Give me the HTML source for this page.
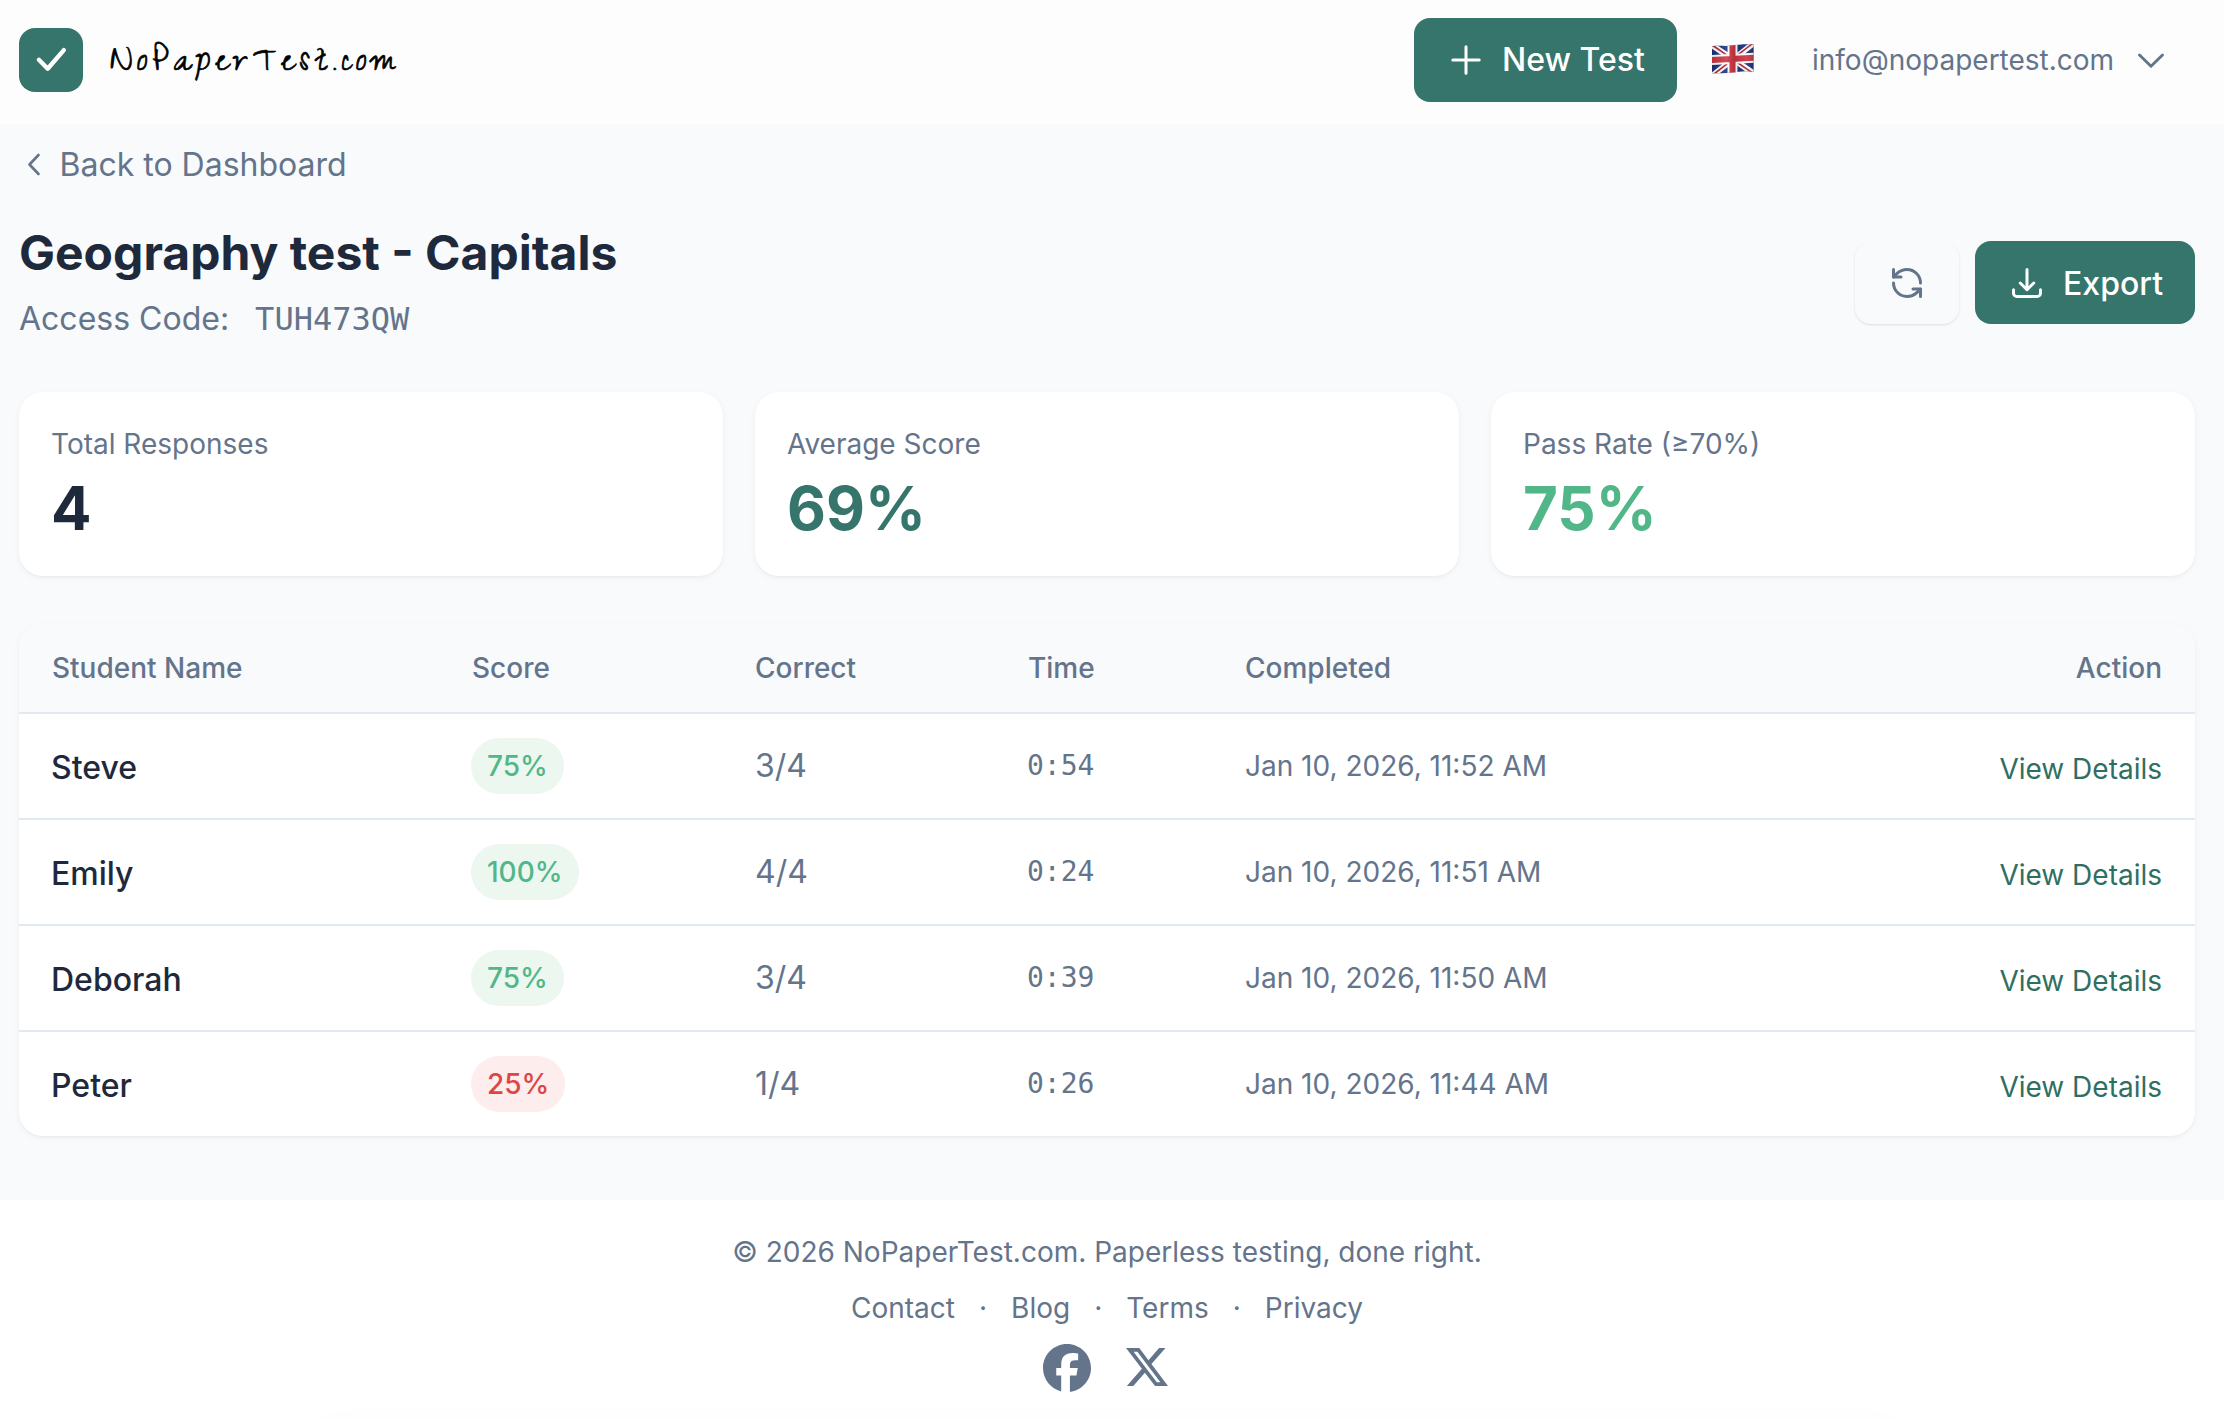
<!DOCTYPE html>
<html lang="en">
<head>
<meta charset="utf-8">
<title>Geography test - Capitals | NoPaperTest.com</title>
<style>
*{box-sizing:border-box;margin:0;padding:0}
html,body{width:2224px;height:1420px;overflow:hidden}
body{font-family:"Inter","Liberation Sans",Arial,sans-serif;background:#fff;color:#1e293b;position:relative;-webkit-font-smoothing:antialiased}
.mono{font-family:"DejaVu Sans Mono","Liberation Mono",monospace}
header{position:absolute;left:0;top:0;width:2224px;height:124px;background:#fdfdfe}
.logo-box{position:absolute;left:19px;top:28px;width:64px;height:64px;border-radius:16px;background:#36756b}
.logo-box svg{position:absolute;left:0;top:0}
.logo-text{position:absolute;left:110px;top:36px;font-family:"Zeyada","Reenie Beanie","Liberation Serif",cursive;font-size:40px;line-height:60px;color:#000;letter-spacing:4.7px;white-space:nowrap;-webkit-text-stroke:0.7px #000}
.btn{position:absolute;display:flex;align-items:center;border-radius:16px;background:#36756b;color:#fff;font-size:32px;font-weight:500;white-space:nowrap}
.btn svg{flex:none}
.new-test{left:1414px;top:18px;width:263px;height:84px;padding-left:34px}
.new-test span{margin-left:18px;position:relative;top:-1px}
.flag{position:absolute;left:1711px;top:43px;width:44px;height:32px}
.email{position:absolute;left:1812px;top:40px;font-size:28px;line-height:40px;color:#64748b;white-space:nowrap}
.chev{position:absolute;left:2136px;top:51px}
main{position:absolute;left:0;top:124px;width:2224px;height:1076px;background:#f8fafc}
.back{position:absolute;left:24px;top:16px;height:48px;display:flex;align-items:center;color:#64748b;font-size:32px;line-height:48px}
.back span{margin-left:17.5px;position:relative;top:1px}
h1{position:absolute;left:19px;top:97px;font-size:48px;line-height:64px;font-weight:700;color:#1e293b;white-space:nowrap;}
.code{position:absolute;left:19px;top:171px;font-size:32px;line-height:48px;color:#64748b;white-space:nowrap}
.code .mono{margin-left:17px;font-size:32px}
.refresh{position:absolute;left:1855px;top:118px;width:104px;height:82px;border-radius:16px;background:#f8fafc;box-shadow:0 1px 3px rgba(15,23,42,0.08),0 1px 2px rgba(15,23,42,0.04);display:flex;align-items:center;justify-content:center}
.export{left:1975px;top:117px;width:220px;height:83px;padding-left:34px}
.export span{margin-left:18px;position:relative;top:1px}
.cards{position:absolute;left:19px;top:268px;width:2176px;height:184px}
.card{position:absolute;top:0;width:704px;height:184px;background:#fff;border-radius:24px;box-shadow:0 2px 7px rgba(15,23,42,0.045),0 1px 2px rgba(15,23,42,0.035);padding:32px 32px}
.card .lbl{font-size:28px;line-height:40px;color:#64748b;white-space:nowrap}
.card .val{margin-top:8px;font-size:60px;line-height:72px;font-weight:700;white-space:nowrap}
.tbl{position:absolute;left:19px;top:500px;width:2176px;height:512px;background:#fff;border-radius:24px;overflow:hidden;box-shadow:0 2px 7px rgba(15,23,42,0.045),0 1px 2px rgba(15,23,42,0.035)}
.thead{position:absolute;left:0;top:0;width:2176px;height:90px;background:#f8fafc;border-bottom:2px solid #e2e8f0}
.th{position:absolute;top:24px;font-size:28px;line-height:40px;font-weight:500;color:#64748b;white-space:nowrap}
.row{position:absolute;left:0;width:2176px;height:106px;border-bottom:2px solid #e2e8f0}
.row.last{border-bottom:none}
.cell{position:absolute;white-space:nowrap}
.name{left:32px;top:29.5px;font-size:32px;line-height:48px;font-weight:500;color:#1e293b}
.badge{left:452px;top:24px;height:56px;border-radius:28px;padding:0 16px;font-size:28px;line-height:56px;font-weight:500}
.badge.g{background:#ecf7f0;color:#52b788}
.badge.r{background:#fdeded;color:#dc4646}
.corr{left:736px;top:28px;font-size:32px;line-height:48px;color:#64748b}
.time{left:1008px;top:32px;font-size:28px;line-height:40px;color:#64748b}
.date{left:1226px;top:32px;font-size:28px;line-height:40px;color:#64748b}
.act{right:33px;top:35px;font-size:28px;line-height:40px;font-weight:400;color:#2f6f62}
footer{position:absolute;left:0;top:1200px;width:2224px;height:220px;background:#fff;text-align:center}
.copy{position:absolute;left:0;width:2214px;top:32px;font-size:28px;line-height:40px;color:#64748b}
.links{position:absolute;left:0;width:2214px;top:88px;font-size:28px;line-height:40px;color:#64748b;white-space:nowrap}
.links .dot{margin:0 24px}
.social{position:absolute;left:1043px;top:144px}
@media (max-width:1300px){html{zoom:0.5}}
.bshadow{position:absolute;left:300px;top:1450px;width:1620px;height:100px;border-radius:40px;box-shadow:0 0 60px rgba(15,23,42,0.05)}
</style>
</head>
<body>
<header>
  <div class="logo-box"><svg width="64" height="64" viewBox="0 0 64 64"><path d="M19.9 31.8 28.7 40.7 44.8 22.1" fill="none" stroke="#fff" stroke-width="4.4" stroke-linecap="round" stroke-linejoin="round"/></svg></div>
  <div class="logo-text">NoPaperTest.com</div>
  <div class="btn new-test"><svg width="36" height="36" viewBox="0 0 36 36" fill="none" stroke="#fff" stroke-width="3" stroke-linecap="round"><path d="M4.8 18h26.4M18 4.8v26.4"/></svg><span>New Test</span></div>
  <svg class="flag" viewBox="0 0 44 32">
    <defs><clipPath id="fc"><path d="M1 3.3 C8 2.2 14 3.6 20 2.6 S34 0.9 42.6 1.3 L42.6 29 C34 27.2 28 28.6 21 29.6 S8 30.2 1 30.2 Z"/></clipPath>
    <linearGradient id="fs" x1="0" y1="0" x2="1" y2="0"><stop offset="0" stop-color="#000" stop-opacity=".12"/><stop offset=".35" stop-color="#fff" stop-opacity=".12"/><stop offset=".55" stop-color="#000" stop-opacity=".1"/><stop offset=".8" stop-color="#fff" stop-opacity=".08"/><stop offset="1" stop-color="#000" stop-opacity=".15"/></linearGradient></defs>
    <g clip-path="url(#fc)">
      <g transform="translate(0 1.5) skewY(-3)">
      <rect x="-2" y="-2" width="48" height="36" fill="#1a2f7d"/>
      <path d="M0 0 L44 32 M44 0 L0 32" stroke="#fff" stroke-width="5.6"/>
      <path d="M-1 -1 L21 15.2 M44.5 -1 L23 14.6 M23 16.8 L45 33.2 M21 16.6 L-1 32.6" stroke="#b8242c" stroke-width="1.7"/>
      <path d="M21.5 0 V32 M0 15.5 H44" stroke="#fff" stroke-width="10"/>
      <path d="M21.5 0 V32 M0 15.5 H44" stroke="#cc3340" stroke-width="6"/>
      </g>
      <rect x="0" y="0" width="44" height="32" fill="url(#fs)"/>
    </g>
  </svg>
  <div class="email">info@nopapertest.com</div>
  <svg class="chev" width="30" height="20" viewBox="0 0 30 20" fill="none" stroke="#64748b" stroke-width="2.9" stroke-linecap="round" stroke-linejoin="round"><path d="M3.5 4 15 15.3 26.5 4"/></svg>
</header>
<main>
  <div class="back"><svg width="18" height="26" viewBox="0 0 18 26" fill="none" stroke="#64748b" stroke-width="2.6" stroke-linecap="round" stroke-linejoin="round"><path d="M14.5 4 5.5 13.5l9 9.5"/></svg><span>Back to Dashboard</span></div>
  <h1>Geography test - Capitals</h1>
  <div class="code">Access Code: <span class="mono">TUH473QW</span></div>
  <div class="refresh"><svg width="36" height="36" viewBox="0 0 24 24" fill="none" stroke="#64748b" stroke-width="2" stroke-linecap="round" stroke-linejoin="round"><path d="M21 12a9 9 0 0 0-9-9 9.75 9.75 0 0 0-6.74 2.74L3 8"/><path d="M3 3v5h5"/><path d="M3 12a9 9 0 0 0 9 9 9.75 9.75 0 0 0 6.74-2.74L21 16"/><path d="M16 16h5v5"/></svg></div>
  <div class="btn export"><svg width="36" height="36" viewBox="0 0 24 24" fill="none" stroke="#fff" stroke-width="2" stroke-linecap="round" stroke-linejoin="round"><path d="M3 16.5v2.25A2.25 2.25 0 0 0 5.25 21h13.5A2.25 2.25 0 0 0 21 18.75V16.5M16.5 12 12 16.5m0 0L7.5 12m4.5 4.5V3"/></svg><span>Export</span></div>

  <div class="cards">
    <div class="card" style="left:0"><div class="lbl">Total Responses</div><div class="val" style="color:#1e293b">4</div></div>
    <div class="card" style="left:736px"><div class="lbl">Average Score</div><div class="val" style="color:#36756b">69%</div></div>
    <div class="card" style="left:1472px"><div class="lbl">Pass Rate (≥70%)</div><div class="val" style="color:#52b788">75%</div></div>
  </div>

  <div class="tbl">
    <div class="thead">
      <div class="th" style="left:33px">Student Name</div>
      <div class="th" style="left:453px">Score</div>
      <div class="th" style="left:736px">Correct</div>
      <div class="th" style="left:1009px">Time</div>
      <div class="th" style="left:1226px">Completed</div>
      <div class="th" style="right:33px">Action</div>
    </div>
    <div class="row" style="top:90px">
      <div class="cell name">Steve</div>
      <div class="cell badge g">75%</div>
      <div class="cell corr">3/4</div>
      <div class="cell time mono">0:54</div>
      <div class="cell date">Jan 10, 2026, 11:52 AM</div>
      <div class="cell act">View Details</div>
    </div>
    <div class="row" style="top:196px">
      <div class="cell name">Emily</div>
      <div class="cell badge g">100%</div>
      <div class="cell corr">4/4</div>
      <div class="cell time mono">0:24</div>
      <div class="cell date">Jan 10, 2026, 11:51 AM</div>
      <div class="cell act">View Details</div>
    </div>
    <div class="row" style="top:302px">
      <div class="cell name">Deborah</div>
      <div class="cell badge g">75%</div>
      <div class="cell corr">3/4</div>
      <div class="cell time mono">0:39</div>
      <div class="cell date">Jan 10, 2026, 11:50 AM</div>
      <div class="cell act">View Details</div>
    </div>
    <div class="row last" style="top:408px">
      <div class="cell name">Peter</div>
      <div class="cell badge r">25%</div>
      <div class="cell corr">1/4</div>
      <div class="cell time mono">0:26</div>
      <div class="cell date">Jan 10, 2026, 11:44 AM</div>
      <div class="cell act">View Details</div>
    </div>
  </div>
</main>
<footer>
  <div class="copy">© 2026 NoPaperTest.com. Paperless testing, done right.</div>
  <div class="links">Contact<span class="dot">·</span>Blog<span class="dot">·</span>Terms<span class="dot">·</span>Privacy</div>
  <div class="social">
    <svg width="48" height="48" viewBox="0 0 24 24" fill="#64748b"><path d="M9.101 23.691v-7.98H6.627v-3.667h2.474v-1.58c0-4.085 1.848-5.978 5.858-5.978.401 0 .955.042 1.468.103a8.68 8.68 0 0 1 1.141.195v3.325a8.623 8.623 0 0 0-.653-.036 26.805 26.805 0 0 0-.733-.009c-.707 0-1.259.096-1.675.309a1.686 1.686 0 0 0-.679.622c-.258.42-.374.995-.374 1.752v1.297h3.919l-.386 2.103-.287 1.564h-3.246v8.245C19.396 23.238 24 18.179 24 12.044c0-6.627-5.373-12-12-12s-12 5.373-12 12c0 5.628 3.874 10.35 9.101 11.647Z"/></svg>
    <svg style="position:absolute;left:83px;top:2px" width="42" height="42" viewBox="0 0 24 24" fill="#64748b"><path d="M18.901 1.153h3.68l-8.04 9.19L24 22.846h-7.406l-5.8-7.584-6.638 7.584H.474l8.6-9.83L0 1.154h7.594l5.243 6.932ZM17.61 20.644h2.039L6.486 3.24H4.298Z"/></svg>
  </div>
</footer>
<div class="bshadow"></div>
</body>
</html>
